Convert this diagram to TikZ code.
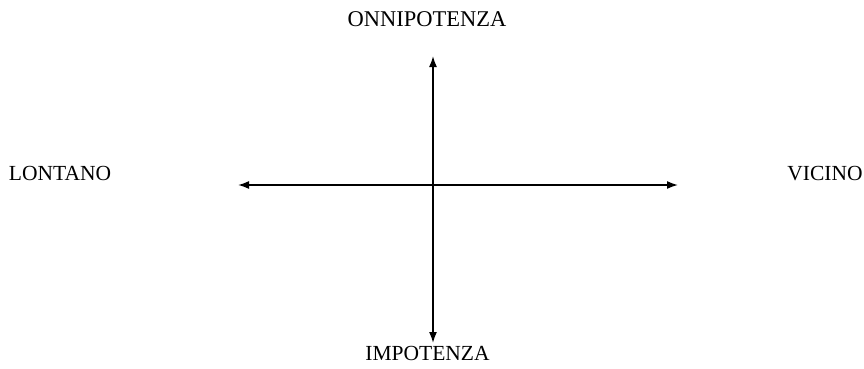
\documentclass[tikz,border=0pt]{standalone}
\usepackage{fontspec}
\setmainfont{Liberation Serif}
\usetikzlibrary{arrows.meta}

\begin{document}
\begin{tikzpicture}[x=1pt, y=-1pt, line width=1.6pt,
    axlabel/.style={font=\fontsize{21.5}{24}\selectfont, inner sep=0pt, anchor=base},
    axis/.style={{Latex[length=11pt,width=8pt]}-{Latex[length=11pt,width=8pt]}}]
  \useasboundingbox (0,0) rectangle (864,369);
  \coordinate (O) at (433,185);
  \coordinate (L) at (238,185);
  \coordinate (R) at (678,185);
  \coordinate (T) at (433,56);
  \coordinate (B) at (433,343);
  \draw[axis] (L) -- (R);
  \draw[axis] (B) -- (T);
  \node[axlabel, font=\fontsize{22.5}{24}\selectfont] (onni) at (427,27) {ONNIPOTENZA};
  \node[axlabel] (impo) at (427.5,360) {IMPOTENZA};
  \node[axlabel] (lont) at (60,180) {LONTANO};
  \node[axlabel] (vici) at (825,180) {VICINO};
\end{tikzpicture}
\end{document}
